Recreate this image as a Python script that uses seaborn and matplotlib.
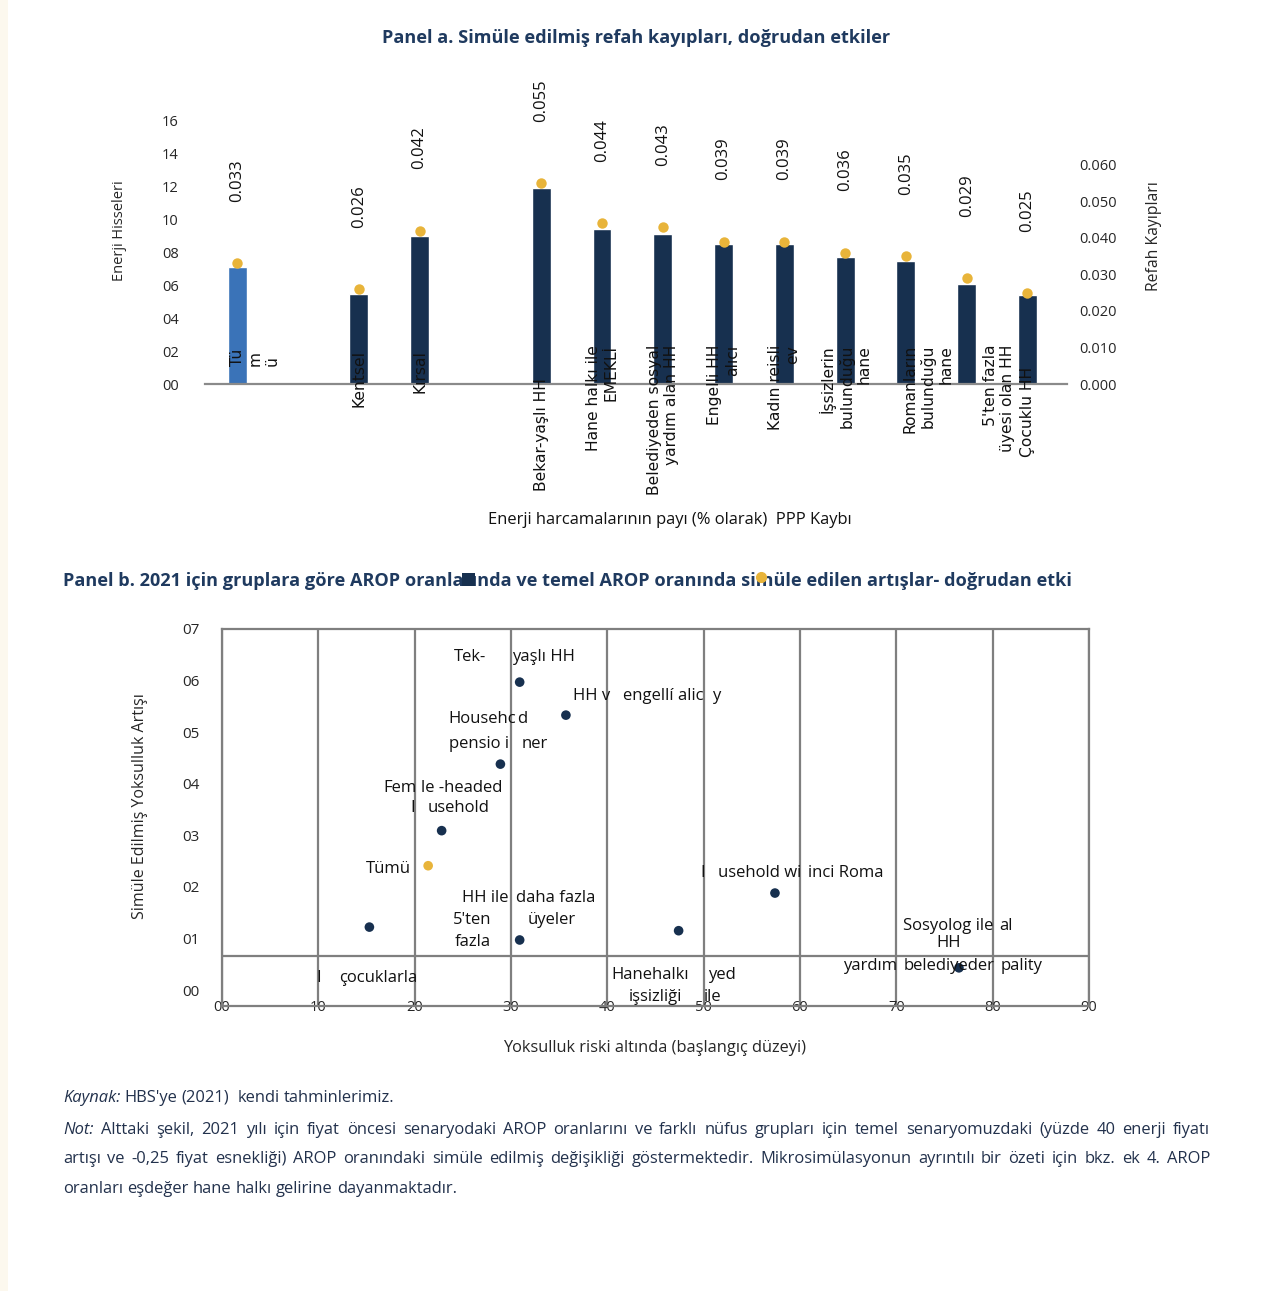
import numpy as np
import pandas as pd
import matplotlib
matplotlib.use("Agg")
import matplotlib.pyplot as plt
import seaborn as sns
from matplotlib.patches import Rectangle
from matplotlib.lines import Line2D
from matplotlib.transforms import blended_transform_factory

# ---------------- Panel a: energy shares and welfare losses ----------------
gruplar_a = ["Tümü", "Kentsel", "Kırsal", "Bekar-yaşlı HH", "Hane halkı ile EMEKLİ",
             "Belediyeden sosyal yardım alan HH", "Engelli HH alıcı", "Kadın reisli ev",
             "İşsizlerin bulunduğu hane", "Romanların bulunduğu hane",
             "5'ten fazla üyesi olan HH", "Çocuklu HH"]
enerji_payi = [7.1, 5.5, 9.0, 11.9, 9.4, 9.1, 8.5, 8.5, 7.7, 7.5, 6.1, 5.4]
refah_kaybi = [0.033, 0.026, 0.042, 0.055, 0.044, 0.043, 0.039, 0.039, 0.036, 0.035, 0.029, 0.025]
etiketler_a = ["Tü\nm\nü", "Kentsel", "Kırsal", "Bekar-yaşlı HH", "Hane halkı ile\nEMEKLİ",
               "Belediyeden sosyal\nyardım alan HH", "Engelli HH\nalıcı", "Kadın reisli\nev",
               "İşsizlerin\nbulunduğu\nhane", "Romanların\nbulunduğu\nhane",
               "5'ten fazla\nüyesi olan HH", "Çocuklu HH"]
sol_eksen = [0, 2, 4, 6, 8, 10, 12, 14, 16]
sag_eksen = [0.0, 0.01, 0.02, 0.03, 0.04, 0.05, 0.06]

# ---------------- Panel b: AROP rates ----------------
gruplar_b = ["Tek-yaşlı HH", "HH w/ engelli alıcı", "Household pensioner",
             "Female-headed household", "Tümü", "Çocuklarla HH", "HH ile 5'ten fazla üyeler",
             "Hanehalkı işsizliği ile", "Household with Roma", "Sosyal yardım belediye HH"]
baslangic_risk = [30.9, 35.7, 28.9, 22.8, 21.4, 15.3, 30.9, 47.4, 57.4, 76.5]
yoksulluk_artisi = [5.97, 5.33, 4.38, 3.09, 2.41, 1.22, 0.97, 1.15, 1.88, 0.43]
x_eksen = [0, 10, 20, 30, 40, 50, 60, 70, 80, 90]
y_eksen = [0, 1, 2, 3, 4, 5, 6, 7]

# ---------------- styling ----------------
W, H = 1263, 1291
NAVY = "#17304F"
BLUE = "#3A73B8"
GOLD = "#E8B43A"
TITLE = "#1F3A5F"
GRID = "#7F7F7F"
NOTE = "#22314C"

sns.set_theme(style="white")
plt.rcParams["font.family"] = ["Open Sans", "DejaVu Sans"]
plt.rcParams["text.color"] = "#111111"


def fx(px):
    return px / W


def fy(py):
    return 1 - py / H


fig = plt.figure(figsize=(W / 100, H / 100), dpi=100)
fig.patch.set_facecolor("white")
fig.add_artist(Rectangle((0, 0), 8 / W, 1, transform=fig.transFigure,
                         facecolor="#FCF8EE", edgecolor="none", zorder=0))

# ---------------- Panel a ----------------
fig.text(fx(636), fy(38), "Panel a. Simüle edilmiş refah kayıpları, doğrudan etkiler",
         ha="center", va="center", fontsize=13.1, weight="bold", color=TITLE)

ax = fig.add_axes([fx(205), fy(384), fx(1067) - fx(205), fy(121) - fy(384)])
sira = [gruplar_a[0], " ", gruplar_a[1], gruplar_a[2], "  "] + gruplar_a[3:]
df_a = pd.DataFrame({"grup": gruplar_a, "pay": enerji_payi, "kayip": refah_kaybi,
                     "tur": ["Tümü"] + ["Grup"] * (len(gruplar_a) - 1)})
sns.barplot(data=df_a, x="grup", y="pay", order=sira, hue="tur",
            palette={"Tümü": BLUE, "Grup": NAVY}, width=0.31, dodge=False,
            saturation=1, legend=False, ax=ax)

ax2 = ax.twinx()
sns.stripplot(data=df_a, x="grup", y="kayip", order=sira, jitter=False, color=GOLD,
              size=7.5, linewidth=0, ax=ax2)

ax.set_xlim(-0.53, 13.65)
ax.set_ylim(0, 16)
ax2.set_ylim(0, 0.072)
ax.set_yticks(sol_eksen)
ax.set_yticklabels([f"{v:02d}" for v in sol_eksen])
ax2.set_yticks(sag_eksen)
ax2.set_yticklabels([f"{v:.3f}" for v in sag_eksen])
ax.set_xticks([])
ax2.set_xticks([])
ax.set_xlabel("")
ax2.set_xlabel("")
for s in ax.spines.values():
    s.set_visible(False)
for s in ax2.spines.values():
    s.set_visible(False)
ax.spines["bottom"].set_visible(True)
ax.spines["bottom"].set_color("#8A8A8A")
ax.spines["bottom"].set_linewidth(1.6)
ax.tick_params(axis="y", length=0, pad=19, labelsize=10.5)
ax2.tick_params(axis="y", length=0, pad=9, labelsize=10.5)
ax.set_ylabel("Enerji Hisseleri", fontsize=10.5)
ax.yaxis.set_label_coords((127 - 205) / 862, (384 - 231) / 263)
ax2.set_ylabel("Refah Kayıpları", fontsize=11.3, rotation=90)
ax2.yaxis.set_label_coords((1146 - 205) / 862, (384 - 236) / 263)

# value labels above the welfare-loss dots
for g, v in zip(gruplar_a, refah_kaybi):
    ax2.annotate(f"{v:.3f}", xy=(sira.index(g), v), xytext=(0, 44),
                 textcoords="offset points", rotation=90, ha="center", va="bottom",
                 fontsize=12)

# category labels written vertically across the bars
kaydir = {"Tümü": -0.12, "Romanların bulunduğu hane": 0.36, "5'ten fazla üyesi olan HH": 0.53}
ust = {"Kentsel": 350, "Kırsal": 350, "Bekar-yaşlı HH": 378, "Çocuklu HH": 367}
trans = blended_transform_factory(ax.transData, fig.transFigure)
for g, et in zip(gruplar_a, etiketler_a):
    pos = sira.index(g) + kaydir.get(g, 0.0)
    if g == "Tümü":
        ax.text(pos, fy(366), et, rotation=90, ha="left", va="bottom",
                multialignment="left", transform=trans, fontsize=11.2,
                family="DejaVu Sans", linespacing=1.2, clip_on=False)
    else:
        ax.text(pos, fy(ust.get(g, 345)), et, rotation=90, ha="center", va="top",
                multialignment="right", transform=trans, fontsize=11.2,
                family="DejaVu Sans", linespacing=1.2, clip_on=False)

# legend entries
fig.text(fx(670), fy(520), "Enerji harcamalarının payı (% olarak)  PPP Kaybı",
         ha="center", va="center", fontsize=11.9)

# ---------------- Panel b ----------------
fig.text(fx(63), fy(581),
         "Panel b. 2021 için gruplara göre AROP oranlarında ve temel AROP oranında "
         "simüle edilen artışlar- doğrudan etki",
         ha="left", va="center", fontsize=13.1, weight="bold", color=TITLE)
fig.add_artist(Rectangle((fx(462), fy(586)), 13 / W, 13 / H, transform=fig.transFigure,
                         facecolor=NAVY, edgecolor="none", zorder=5))
fig.add_artist(Line2D([fx(761)], [fy(577)], marker="o", markersize=7, color=GOLD,
                      linestyle="none", transform=fig.transFigure, zorder=5))

bx = fig.add_axes([fx(222), fy(1006), fx(1089) - fx(222), fy(629) - fy(1006)])
df_b = pd.DataFrame({"grup": gruplar_b, "risk": baslangic_risk, "artis": yoksulluk_artisi,
                     "tur": ["Tümü" if g == "Tümü" else "Grup" for g in gruplar_b]})
sns.scatterplot(data=df_b, x="risk", y="artis", hue="tur",
                palette={"Tümü": GOLD, "Grup": NAVY}, s=48, linewidth=0,
                legend=False, ax=bx, zorder=4)
bx.set_xlim(0, 90)
bx.set_ylim(-0.31, 7)
bx.set_xticks(x_eksen)
bx.set_xticklabels([f"{v:02d}" for v in x_eksen])
bx.set_yticks(y_eksen)
bx.set_yticklabels([f"{v:02d}" for v in y_eksen])
bx.set_yticks([0.65, 2, 3, 4, 5, 6], minor=True)
bx.set_axisbelow(True)
bx.grid(False)
bx.xaxis.grid(True, which="major", color=GRID, linewidth=1.6)
bx.yaxis.grid(True, which="minor", color=GRID, linewidth=1.6)
for s in bx.spines.values():
    s.set_color(GRID)
    s.set_linewidth(1.6)
bx.tick_params(which="both", length=0)
bx.tick_params(axis="x", pad=-4, labelsize=10.5)
bx.tick_params(axis="y", pad=16, labelsize=11)
bx.set_xlabel("Yoksulluk riski altında (başlangıç düzeyi)", fontsize=11.8)
bx.xaxis.set_label_coords((655 - 222) / 867, (1006 - 1040) / 377)
bx.set_ylabel("Simüle Edilmiş Yoksulluk Artışı", fontsize=11.5)
bx.yaxis.set_label_coords((148 - 222) / 867, (1006 - 806) / 377)

# point labels (fragmented text pieces)
parcalar = [
    ("Tek-", 25.7, 6.46), ("yaşlı HH", 33.4, 6.46),
    ("HH v", 38.4, 5.70), ("engellí alic", 45.8, 5.70), ("y", 51.3, 5.70),
    ("Househc", 27.0, 5.26), ("d", 31.2, 5.26),
    ("pensio i", 26.7, 4.77), ("ner", 32.5, 4.77),
    ("Fem", 18.5, 3.92), ("le -headed", 24.9, 3.92),
    ("I", 19.8, 3.53), ("usehold", 24.6, 3.53),
    ("Tümü", 17.3, 2.35),
    ("HH ile", 27.3, 1.79), ("daha fazla", 34.6, 1.79),
    ("5'ten", 26.0, 1.36), ("üyeler", 34.2, 1.36),
    ("fazla", 26.0, 0.93),
    ("I", 49.9, 2.27), ("usehold wi", 55.8, 2.27), ("inci Roma", 64.7, 2.27),
    ("Sosyolog ile", 75.4, 1.24), ("al", 81.4, 1.24), ("HH", 75.4, 0.91),
    ("yardım", 67.3, 0.47), ("belediyeder", 75.5, 0.47), ("pality", 83.0, 0.47),
    ("I", 10.0, 0.24), ("çocuklarla", 16.2, 0.24),
    ("Hanehalkı", 44.5, 0.29), ("yed", 51.9, 0.29),
    ("işsizliği", 45.0, -0.13), ("ile", 50.9, -0.13),
]
for txt, xx, yy in parcalar:
    bx.text(xx, yy, txt, ha="center", va="center", fontsize=12, color="#111111",
            zorder=5, clip_on=False)

# ---------------- notes ----------------
renderer = fig.canvas.get_renderer()
FS_NOTE = 11.9


def _genislik(t):
    return t.get_window_extent(renderer).width


def satir(parcalar_satir, y_px, x0, x1=None):
    arts = []
    for txt, stil in parcalar_satir:
        arts.append(fig.text(0, fy(y_px), txt, fontsize=FS_NOTE, style=stil, color=NOTE,
                             ha="left", va="center"))
    ws = [_genislik(a) for a in arts]
    if x1 is None:
        a1 = fig.text(0, 0, "x x", fontsize=FS_NOTE)
        a2 = fig.text(0, 0, "xx", fontsize=FS_NOTE)
        bosluk = _genislik(a1) - _genislik(a2)
        a1.remove()
        a2.remove()
    else:
        bosluk = (x1 - x0 - sum(ws)) / (len(arts) - 1)
    x = x0
    for a, w in zip(arts, ws):
        a.set_x(fx(x))
        x += w + bosluk


def kelimeler(metin, ilk=None):
    out = [] if ilk is None else [(ilk, "italic")]
    out += [(w, "normal") for w in metin.split(" ")]
    return out


satir(kelimeler("HBS'ye (2021)  kendi tahminlerimiz.", "Kaynak:"), 1098, 63)
satir(kelimeler("Alttaki şekil, 2021 yılı için fiyat öncesi senaryodaki AROP oranlarını ve "
                "farklı nüfus grupları için temel senaryomuzdaki (yüzde 40 enerji fiyatı", "Not:"),
      1130, 63, 1210)
satir(kelimeler("artışı ve -0,25 fiyat esnekliği) AROP oranındaki simüle edilmiş değişikliği "
                "göstermektedir. Mikrosimülasyonun ayrıntılı bir özeti için bkz. ek 4. AROP"),
      1159, 63, 1210)
satir(kelimeler("oranları eşdeğer hane halkı gelirine dayanmaktadır."), 1189, 63)

fig.savefig("out.png", dpi=100)
